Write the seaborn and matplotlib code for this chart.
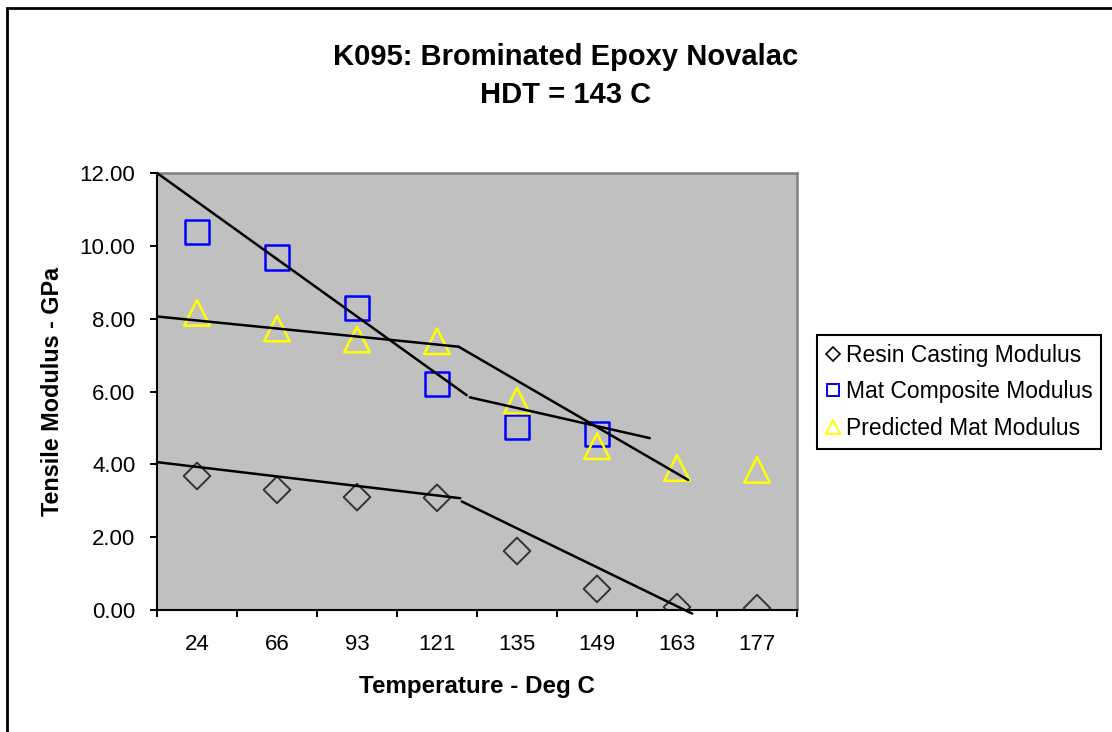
import numpy as np
import pandas as pd
import matplotlib
matplotlib.use("Agg")
import matplotlib.pyplot as plt
from matplotlib.lines import Line2D
from matplotlib.patches import Rectangle
import seaborn as sns

# ---------------- data ----------------
temps = ["24", "66", "93", "121", "135", "149", "163", "177"]
resin = [3.68, 3.30, 3.10, 3.08, 1.62, 0.58, 0.08, 0.05]
mat = [10.37, 9.68, 8.29, 6.21, 5.02, 4.83]
predicted = [8.16, 7.73, 7.43, 7.38, 5.75, 4.50, 3.90, 3.85]

# hand-drawn trend segments (x in category units, y in GPa)
mat_seg1_x = [-0.5, 3.37]
mat_seg1_y = [12.0, 5.90]
mat_seg2_x = [3.41, 5.66]
mat_seg2_y = [5.84, 4.72]
pred_seg1_x = [-0.5, 3.27]
pred_seg1_y = [8.06, 7.23]
pred_seg2_x = [3.27, 6.14]
pred_seg2_y = [7.23, 3.57]
resin_seg1_x = [-0.5, 3.29]
resin_seg1_y = [4.06, 3.07]
resin_seg2_x = [3.31, 6.19]
resin_seg2_y = [2.98, -0.10]

y_ticks = [0, 2, 4, 6, 8, 10, 12]
series_labels = ["Resin Casting Modulus", "Mat Composite Modulus", "Predicted Mat Modulus"]

# ---------------- style ----------------
sns.set_theme(style="white")
plt.rcParams["font.family"] = ["Liberation Sans", "DejaVu Sans"]
plt.rcParams["text.color"] = "black"
plt.rcParams["axes.labelcolor"] = "black"
plt.rcParams["xtick.color"] = "black"
plt.rcParams["ytick.color"] = "black"

W, H = 1112, 732
fig = plt.figure(figsize=(W / 100, H / 100), dpi=100)
fig.patch.set_facecolor("white")

ax = fig.add_axes([157 / W, 1 - 610 / H, 640 / W, 437 / H])
ax.set_facecolor("#C0C0C0")

xpos = np.arange(len(temps))

resin_col = "#333333"
mat_col = "#0000FF"
pred_col = "#FFFF00"

sns.scatterplot(x=xpos, y=resin, marker="D", s=185, facecolor="none",
                edgecolor=resin_col, linewidth=1.4, ax=ax, zorder=2)
sns.scatterplot(x=xpos[:len(mat)], y=mat, marker="s", s=300, facecolor="none",
                edgecolor=mat_col, linewidth=1.8, ax=ax, zorder=2)
sns.scatterplot(x=xpos, y=predicted, marker="^", s=340, facecolor="none",
                edgecolor=pred_col, linewidth=1.8, ax=ax, zorder=2)

for sx, sy in [(mat_seg1_x, mat_seg1_y), (mat_seg2_x, mat_seg2_y),
               (pred_seg1_x, pred_seg1_y), (pred_seg2_x, pred_seg2_y),
               (resin_seg1_x, resin_seg1_y), (resin_seg2_x, resin_seg2_y)]:
    sns.lineplot(x=sx, y=sy, color="black", linewidth=1.8, ax=ax,
                 zorder=3, clip_on=False)

ax.set_xlim(-0.5, len(temps) - 0.5)
ax.set_ylim(0, 12)

ax.set_yticks(y_ticks)
ax.set_yticklabels([f"{v:.2f}" for v in y_ticks])
ax.set_xticks(xpos)
ax.set_xticklabels(temps)
ax.set_xticks(np.arange(-0.5, len(temps), 1.0), minor=True)

ax.tick_params(axis="y", which="major", direction="out", length=5, width=1.4,
               color="black", labelcolor="black", pad=10.5, labelsize=16, left=True)
ax.tick_params(axis="x", which="major", length=0, pad=17, labelsize=16,
               labelcolor="black", bottom=True)
ax.tick_params(axis="x", which="minor", direction="out", length=5, width=1.4,
               color="black", bottom=True)

for side in ["left", "bottom"]:
    ax.spines[side].set_color("black")
    ax.spines[side].set_linewidth(1.5)
for side in ["top", "right"]:
    ax.spines[side].set_color("#808080")
    ax.spines[side].set_linewidth(1.8)
    ax.spines[side].set_visible(True)

ax.set_ylabel("Tensile Modulus - GPa", fontsize=16.8, fontweight="bold",
              va="center", color="black")
ax.yaxis.set_label_coords((53 - 157) / 640, 0.5)
ax.set_xlabel("Temperature - Deg C", fontsize=17.4, fontweight="bold",
              va="center", color="black")
ax.xaxis.set_label_coords((477 - 157) / 640, (610 - 687) / 437)

fig.text(566 / W, 1 - 57 / H, "K095: Brominated Epoxy Novalac", ha="center",
         va="center", fontsize=21, fontweight="bold", color="black")
fig.text(566 / W, 1 - 95 / H, "HDT = 143 C", ha="center", va="center",
         fontsize=21, fontweight="bold", color="black")

handles = [
    Line2D([], [], marker="D", ls="", mfc="none", mec="black", ms=7, mew=1.2),
    Line2D([], [], marker="s", ls="", mfc="none", mec=mat_col, ms=9, mew=1.4),
    Line2D([], [], marker="^", ls="", mfc="none", mec=pred_col, ms=10, mew=1.4),
]
leg = fig.legend(handles, series_labels, loc="upper left",
                 bbox_to_anchor=(817 / W, 1 - 335 / H),
                 bbox_transform=fig.transFigure, frameon=True, fancybox=False,
                 edgecolor="black", framealpha=1, borderpad=0.38,
                 handlelength=0.6, handletextpad=0.28, labelspacing=0.6,
                 borderaxespad=0, fontsize=16.5)
leg.get_frame().set_linewidth(1.5)
for t in leg.get_texts():
    t.set_color("black")

# outer chart border (top and left visible in the reference crop)
fig.add_artist(Rectangle((6.5 / W, -0.1), 1.2, 1.1 - 7.5 / H,
                         transform=fig.transFigure, fill=False,
                         edgecolor="black", linewidth=2))

fig.savefig("out.png", dpi=100)
